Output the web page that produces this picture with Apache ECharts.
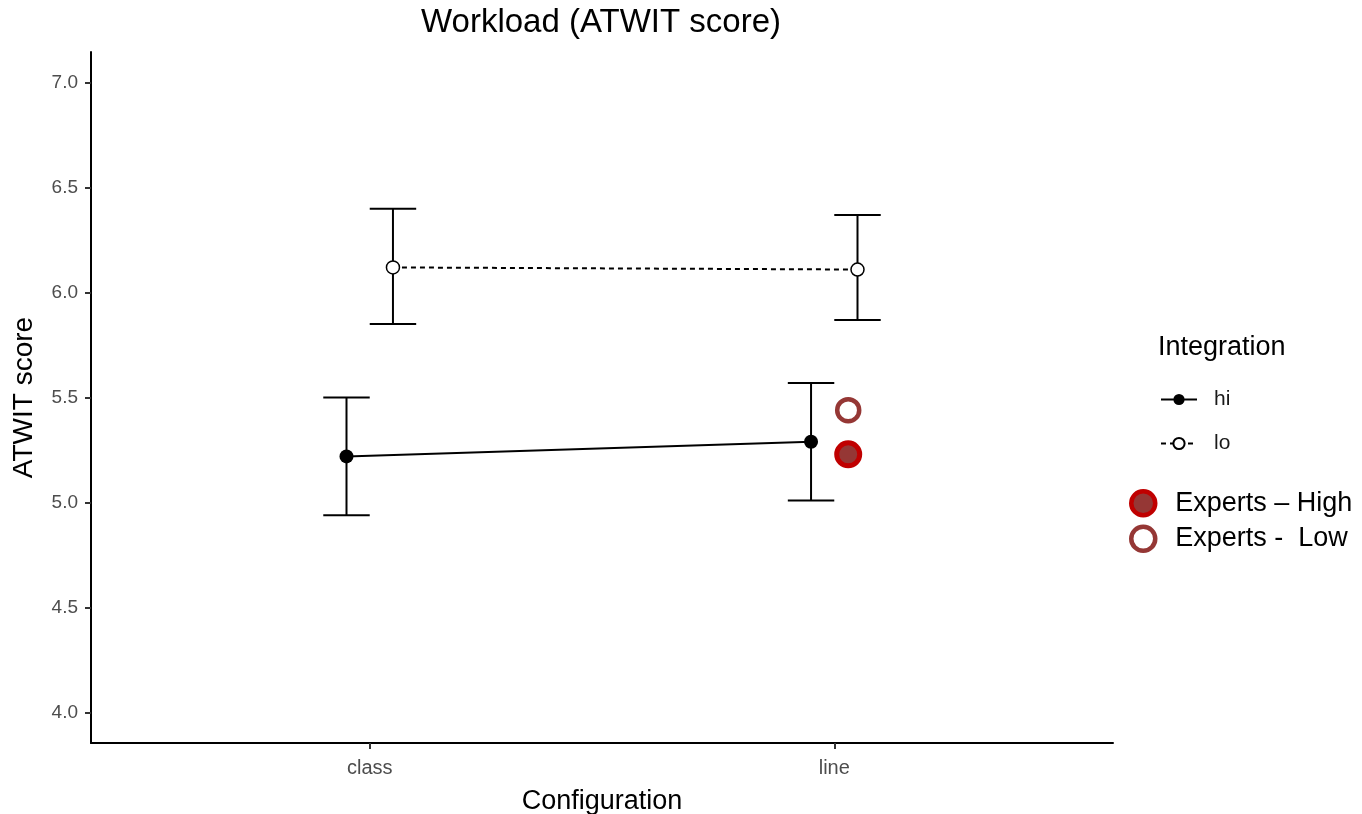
<!DOCTYPE html>
<html>
<head>
<meta charset="utf-8">
<script src="https://cdn.jsdelivr.net/npm/echarts@6/dist/echarts.min.js"></script>
<style>html,body{margin:0;padding:0;background:#fff;}#c{width:1362px;height:814px;}</style>
</head>
<body>
<div id="c"></div>
<script>
// ---- data ----
const categories = ['class', 'line'];
const groups = ['hi', 'lo'];
const hiMean = [5.22, 5.29];
const hiLower = [4.94, 5.01];
const hiUpper = [5.50, 5.57];
const loMean = [6.12, 6.11];
const loLower = [5.85, 5.87];
const loUpper = [6.40, 6.37];
const expertCategory = ['line'];
const expertsHigh = [5.23];
const expertsLow = [5.44];
const yTicks = [4.0, 4.5, 5.0, 5.5, 6.0, 6.5, 7.0];

// ---- layout helpers ----
const DODGE = 0.05;
const EXPERT_SHIFT = 0.03;
const catPos = (i) => i + 1;
const FONT = '"Liberation Sans", Arial, sans-serif';

const hiPts = categories.map((c, i) => [catPos(i) - DODGE, hiMean[i]]);
const loPts = categories.map((c, i) => [catPos(i) + DODGE, loMean[i]]);
const errData = [];
categories.forEach((c, i) => {
  errData.push([catPos(i) - DODGE, hiLower[i], hiUpper[i]]);
  errData.push([catPos(i) + DODGE, loLower[i], loUpper[i]]);
});
const expHiPts = expertCategory.map((c, k) => [catPos(categories.indexOf(c)) + EXPERT_SHIFT, expertsHigh[k]]);
const expLoPts = expertCategory.map((c, k) => [catPos(categories.indexOf(c)) + EXPERT_SHIFT, expertsLow[k]]);

const chart = echarts.init(document.getElementById('c'), null, {renderer: 'canvas'});
const option = {
  backgroundColor: '#fff',
  animation: false,
  textStyle: {fontFamily: FONT},
  title: [
    {text: 'Workload (ATWIT score)', left: 421, top: 6, padding: 0,
     textStyle: {fontFamily: FONT, fontSize: 33, fontWeight: 'normal', color: '#000'}},
    {text: 'Integration', left: 1158, top: 334, padding: 0,
     textStyle: {fontFamily: FONT, fontSize: 27, fontWeight: 'normal', color: '#000'}}
  ],
  grid: {left: 91, right: 249, top: 52, bottom: 71, containLabel: false, outerBoundsMode: 'none'},
  xAxis: {
    type: 'value', min: 0.4, max: 2.6,
    name: 'Configuration', nameLocation: 'middle', nameGap: 45,
    nameTextStyle: {fontFamily: FONT, fontSize: 27, color: '#000'},
    axisLine: {show: true, onZero: false, lineStyle: {color: '#000', width: 2}},
    axisTick: {show: true, customValues: [1, 2], length: 6, lineStyle: {color: '#333', width: 2}},
    axisLabel: {customValues: [1, 2], margin: 15, fontSize: 20, color: '#4d4d4d', fontFamily: FONT,
      formatter: (v) => categories[Math.round(v) - 1] || ''},
    splitLine: {show: false}
  },
  yAxis: {
    type: 'value', min: 3.855, max: 7.146,
    name: 'ATWIT score', nameLocation: 'middle', nameGap: 53, nameRotate: 90,
    nameTextStyle: {fontFamily: FONT, fontSize: 28, color: '#000'},
    axisLine: {show: true, onZero: false, lineStyle: {color: '#000', width: 2}},
    axisTick: {show: true, customValues: yTicks, length: 6, lineStyle: {color: '#333', width: 2}},
    axisLabel: {customValues: yTicks, margin: 13, fontSize: 19, color: '#4d4d4d', fontFamily: FONT,
      formatter: (v) => v.toFixed(1)},
    splitLine: {show: false}
  },
  legend: [
    {data: groups, orient: 'vertical', left: 1155, top: 384, itemWidth: 36, itemHeight: 14, itemGap: 23,
     textStyle: {fontFamily: FONT, fontSize: 21, color: '#1a1a1a', padding: [0, 0, 0, 12]}, selectedMode: false},
    {data: ['Experts – High', 'Experts -  Low'], orient: 'vertical', left: 1124, top: 484,
     itemWidth: 24, itemHeight: 24, itemGap: 7, symbolKeepAspect: true,
     itemStyle: {borderWidth: 4.5},
     textStyle: {fontFamily: FONT, fontSize: 27, color: '#000', padding: [0, 0, 0, 15]}, selectedMode: false}
  ],
  series: [
    {
      name: 'errorbars', type: 'custom', z: 1,
      encode: {x: 0, y: [1, 2]},
      data: errData,
      renderItem: function (params, api) {
        const x = api.value(0);
        const lo = api.coord([x, api.value(1)]);
        const hi = api.coord([x, api.value(2)]);
        const l = api.coord([x - 0.05, api.value(1)])[0];
        const r = api.coord([x + 0.05, api.value(1)])[0];
        const st = {stroke: '#000', lineWidth: 2};
        return {type: 'group', children: [
          {type: 'line', shape: {x1: lo[0], y1: lo[1], x2: hi[0], y2: hi[1]}, style: st},
          {type: 'line', shape: {x1: l, y1: lo[1], x2: r, y2: lo[1]}, style: st},
          {type: 'line', shape: {x1: l, y1: hi[1], x2: r, y2: hi[1]}, style: st}
        ]};
      }
    },
    {
      name: 'hi', type: 'line', z: 3, data: hiPts,
      symbol: 'circle', symbolSize: 14,
      lineStyle: {color: '#000', width: 2, type: 'solid'},
      itemStyle: {color: '#000', borderColor: '#000', borderWidth: 0}
    },
    {
      name: 'lo', type: 'line', z: 3, data: loPts,
      symbol: 'circle', symbolSize: 13,
      lineStyle: {color: '#000', width: 2, type: [5, 4]},
      itemStyle: {color: '#fff', borderColor: '#000', borderWidth: 1.5}
    },
    {
      name: 'Experts – High', type: 'scatter', z: 4, data: expHiPts,
      symbol: 'circle', symbolSize: 23,
      itemStyle: {color: '#953735', borderColor: '#c00000', borderWidth: 5, opacity: 1}
    },
    {
      name: 'Experts -  Low', type: 'scatter', z: 4, data: expLoPts,
      symbol: 'circle', symbolSize: 22,
      itemStyle: {color: '#fff', borderColor: '#953735', borderWidth: 4.5, opacity: 1}
    }
  ]
};
chart.setOption(option);
</script>
</body>
</html>
